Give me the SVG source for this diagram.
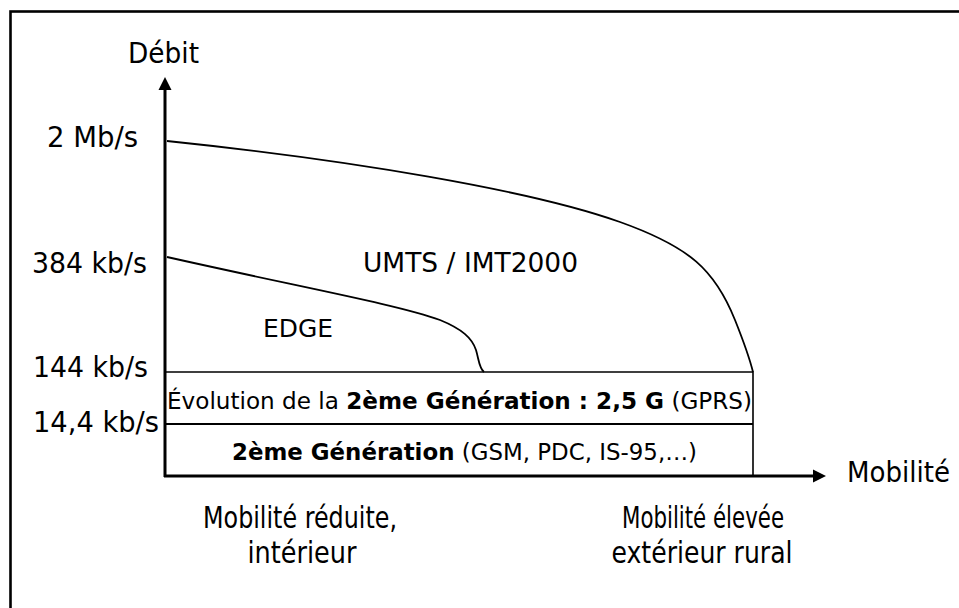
<svg xmlns="http://www.w3.org/2000/svg" width="959" height="608" viewBox="0 0 959 608">
<style>
text{font-family:"DejaVu Sans","Liberation Sans",Arial,sans-serif;fill:#000}
.ax{font-size:28px}
.bl{font-size:30px}
.bx{font-size:23.5px}
.b{font-weight:bold}
.curve{fill:none;stroke:#000;stroke-width:1.8}
.axis{fill:none;stroke:#000;stroke-width:3}
.thin{fill:none;stroke:#000;stroke-width:1.6}
.mid{fill:none;stroke:#000;stroke-width:2.2}
</style>
<defs>
<marker id="arr" markerUnits="userSpaceOnUse" markerWidth="14" markerHeight="14" refX="0" refY="7" orient="auto" viewBox="0 0 14 14">
<path d="M0,0.5 L13,7 L0,13.5 Z" fill="#000"/>
</marker>
</defs>
<rect width="959" height="608" fill="#fff"/>
<rect x="10.5" y="11.5" width="1000" height="1000" fill="none" stroke="#000" stroke-width="2.6"/>
<g id="connectors">
<path id="y-axis" class="axis" d="M165,477 L165,90" marker-end="url(#arr)"/>
<path id="x-axis" class="axis" d="M164,476 L813,476" marker-end="url(#arr)"/>
<path id="umts-curve" class="curve" d="M167,141 C350,160 530,190 620,222 C690,247 715,270 735,320 C745,345 750,360 753,372"/>
<path id="edge-curve" class="curve" d="M167,257 C300,287 400,305 440,320 C462,329 472,338 476,350 C479,360 479,368 484,372"/>
</g>
<g id="gen2-box">
<path class="thin" d="M165,372 L753,372 L753,476"/>
<path class="mid" d="M165,424 L753,424"/>
</g>
<g id="gen25-label">
<text class="bx" x="167" y="409" textLength="585" lengthAdjust="spacingAndGlyphs">Évolution de la <tspan class="b">2ème Génération : 2,5 G</tspan> (GPRS)</text>
</g>
<g id="gen2-label">
<text class="bx" x="232" y="460" textLength="465" lengthAdjust="spacingAndGlyphs"><tspan class="b">2ème Génération</tspan> (GSM, PDC, IS-95,…)</text>
</g>
<g id="umts">
<text x="363" y="272" textLength="215" lengthAdjust="spacingAndGlyphs" style="font-size:26.5px">UMTS / IMT2000</text>
</g>
<g id="edge">
<text x="263" y="337" textLength="70" lengthAdjust="spacingAndGlyphs" style="font-size:25px">EDGE</text>
</g>
<g id="y-labels">
<text class="ax" x="128" y="63" textLength="71" lengthAdjust="spacingAndGlyphs">Débit</text>
<text class="ax" x="47" y="147" textLength="91" lengthAdjust="spacingAndGlyphs">2 Mb/s</text>
<text class="ax" x="32" y="273" textLength="115" lengthAdjust="spacingAndGlyphs">384 kb/s</text>
<text class="ax" x="33" y="377" textLength="115" lengthAdjust="spacingAndGlyphs">144 kb/s</text>
<text class="ax" x="33" y="432" textLength="126" lengthAdjust="spacingAndGlyphs">14,4 kb/s</text>
</g>
<g id="x-labels">
<text class="ax" x="847" y="482" textLength="103" lengthAdjust="spacingAndGlyphs">Mobilité</text>
<text class="bl" x="300" y="528" text-anchor="middle" textLength="194" lengthAdjust="spacingAndGlyphs">Mobilité réduite,</text>
<text class="bl" x="302" y="563" text-anchor="middle" textLength="109" lengthAdjust="spacingAndGlyphs">intérieur</text>
<text class="bl" x="703" y="528" text-anchor="middle" textLength="162" lengthAdjust="spacingAndGlyphs">Mobilité élevée</text>
<text class="bl" x="702" y="563" text-anchor="middle" textLength="181" lengthAdjust="spacingAndGlyphs">extérieur rural</text>
</g>
</svg>
